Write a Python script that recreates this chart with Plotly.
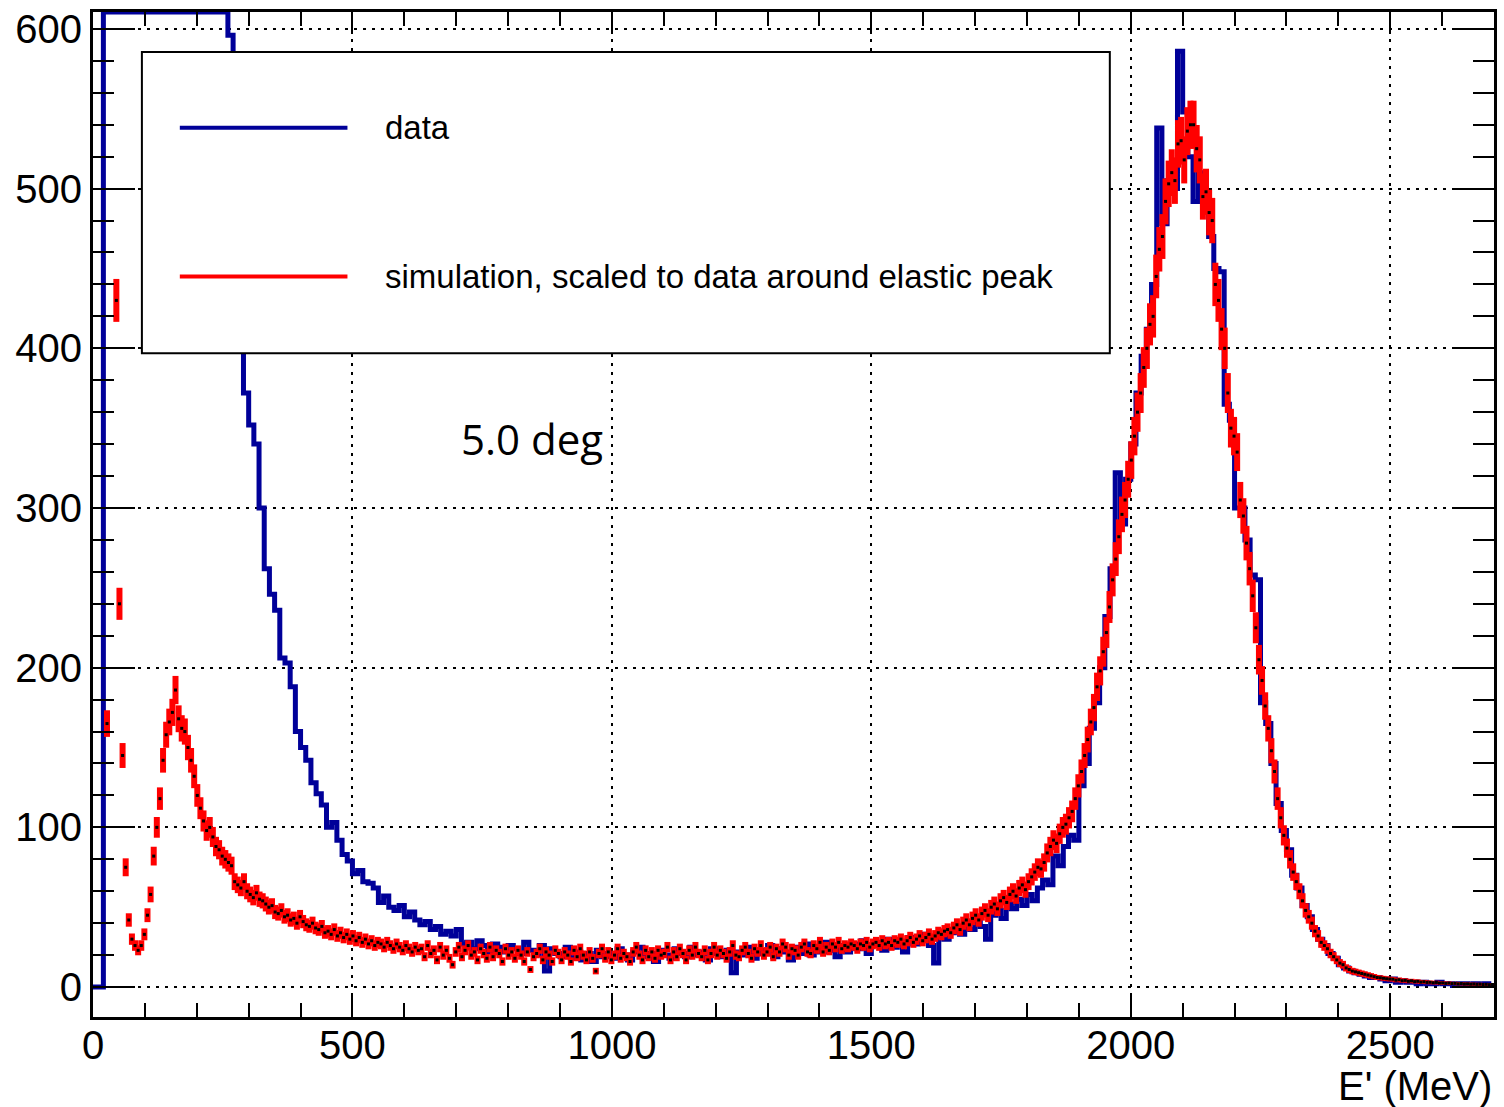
import numpy as np
import plotly.graph_objects as go

# ---------------- data ----------------
X_MIN, X_MAX = 0.0, 2700.0
Y_MIN, Y_MAX = -18.75, 610.6

# measured data histogram: 10 MeV bins starting at 0 MeV (bins above the frame are clipped by ROOT)
DATA_BIN_WIDTH = 10.0
DATA_COUNTS = [
    0, 0, 1400, 2300, 2600, 2400, 2150, 1950, 1780, 1640,        # 0-90
    1520, 1410, 1310, 1220, 1140, 1060, 990, 925, 865, 815,      # 100-190
    770, 730, 695, 665, 640, 618, 596, 520, 430, 372,            # 200-290
    352, 340, 300, 262, 246, 236, 206, 203, 188, 160,            # 300-390
    150, 142, 128, 121, 114, 100, 103, 92, 83, 79,               # 400-490
    71, 73, 66, 65, 62, 53, 57, 50, 48, 51,                      # 500-590
    44, 47, 42, 39, 41, 36, 38, 33, 35, 32,                      # 600-690
    36, 27, 28, 24, 29, 26, 22, 27, 25, 22,                      # 700-790
    26, 24, 21, 28, 23, 20, 26, 10, 24, 21,                      # 800-890
    19, 25, 18, 22, 17, 21, 16, 23, 19, 21,                      # 900-990
    18, 24, 20, 17, 22, 25, 19, 21, 16, 23,                      # 1000-1090
    20, 18, 24, 21, 19, 25, 20, 22, 17, 24,                      # 1100-1190
    21, 19, 23, 9, 22, 20, 25, 18, 23, 21,                       # 1200-1290
    26, 19, 24, 22, 17, 25, 21, 27, 20, 24,                      # 1300-1390
    22, 28, 23, 19, 26, 22, 27, 24, 29, 21,                      # 1400-1490
    26, 28, 23, 30, 25, 28, 22, 31, 27, 29,                      # 1500-1590
    33, 26, 15, 35, 30, 34, 37, 33, 39, 36,                      # 1600-1690
    42, 38, 30, 45, 48, 43, 52, 49, 55, 51,                      # 1700-1790
    58, 54, 62, 67, 64, 82, 76, 88, 95, 92,                      # 1800-1890
    126, 140, 162, 178, 200, 232, 262, 322, 290, 318,            # 1900-1990
    340, 372, 395, 412, 440, 538, 478, 505, 500, 586,            # 2000-2090
    548, 520, 492, 510, 495, 470, 450, 448, 365, 355,            # 2100-2190
    300, 300, 280, 258, 255, 178, 165, 140, 115, 98,             # 2200-2290
    86, 70, 62, 51, 44, 36, 30, 26, 21, 18,                      # 2300-2390
    14, 12, 10, 9, 8, 7, 6, 6, 5, 4,                             # 2400-2490
    5, 3, 4, 3, 3, 2, 3, 2, 2, 3,                                # 2500-2590
    2, 2, 1, 2, 2, 1, 2, 1, 2, 1,                                # 2600-2690
]

# simulation histogram: 6 MeV bins starting at 0 MeV, already scaled to the data
SIM_BIN_WIDTH = 6.0
SIM_SCALE = 0.42  # weight per simulated event (error = sqrt(weight * content))
SIM_COUNTS = [
    None, None, None, None, 165, 900, 750, 430, 240, 145, 75, 42, 30, 26, 23,
    26, 33, 45, 58, 82, 100, 118, 142, 158, 166, 172, 186, 168, 162, 160,
    150, 142, 132, 120, 112, 104, 98, 100, 94, 88, 86, 82, 80, 78, 76,
    66, 64, 62, 66, 60, 58, 56, 59, 55, 54, 52, 50, 51, 47, 46,
    48, 44, 45, 42, 43, 40, 44, 41, 39, 38, 40, 37, 36, 38, 34,
    35, 33, 36, 32, 34, 31, 33, 30, 32, 29, 31, 28, 30, 27, 29,
    26, 28, 27, 25, 28, 26, 24, 27, 25, 23, 26, 24, 22, 25, 23,
    24, 19, 26, 21, 23, 17, 25, 20, 23, 18, 14, 22, 25, 19, 23,
    26, 20, 22, 17, 24, 21, 18, 25, 19, 23, 21, 16, 24, 20, 22,
    18, 23, 20, 16, 22, 11, 19, 21, 24, 17, 22, 20, 16, 23, 21,
    17, 22, 20, 16, 23, 19, 24, 20, 17, 22, 18, 10, 21, 24, 18,
    22, 17, 20, 24, 18, 21, 19, 16, 22, 25, 20, 17, 23, 19, 22,
    18, 23, 20, 21, 25, 17, 22, 19, 24, 21, 17, 23, 20, 25, 21,
    19, 23, 17, 21, 25, 20, 23, 21, 18, 22, 26, 20, 19, 23, 25,
    21, 18, 24, 22, 26, 20, 22, 25, 19, 24, 22, 27, 25, 20, 24,
    23, 20, 25, 27, 22, 21, 26, 24, 28, 22, 25, 23, 27, 25, 28,
    24, 26, 25, 27, 26, 24, 27, 26, 28, 25, 27, 28, 26, 29, 27,
    28, 26, 29, 28, 30, 27, 29, 31, 28, 30, 32, 29, 31, 33, 30,
    32, 34, 33, 35, 36, 34, 37, 39, 36, 40, 42, 39, 43, 45, 42,
    46, 48, 45, 50, 52, 49, 54, 56, 53, 58, 60, 57, 62, 64, 61,
    66, 69, 72, 75, 74, 78, 84, 88, 92, 90, 96, 100, 102, 106, 110,
    118, 126, 135, 145, 155, 166, 175, 188, 198, 210, 222, 238, 255, 268, 282,
    296, 305, 318, 330, 345, 360, 372, 388, 400, 415, 420, 445, 462, 470, 492,
    503, 510, 505, 528, 530, 518, 536, 540, 540, 525, 518, 495, 498, 485, 480,
    440, 430, 412, 400, 372, 350, 345, 335, 305, 295, 278, 262, 245, 225, 205,
    192, 176, 162, 148, 135, 118, 106, 95, 87, 80, 72, 66, 60, 54, 48,
    44, 40, 35, 32, 28, 26, 24, 21, 19, 17, 15, 14, 12, 11, 10,
    9.5, 9, 8.5, 8, 7.5, 7, 6.5, 6, 5.8, 5.5, 5.2, 5, 4.9, 4.3, 4.6,
    4.0, 4.2, 3.6, 3.9, 3.4, 3.6, 3.1, 3.3, 2.9, 3.0, 2.7, 2.9, 2.5, 2.6, 2.3,
    2.5, 2.2, 2.3, 2.0, 2.2, 1.9, 2.0, 1.8, 1.9, 1.7, 1.8, 1.6, 1.7, 1.5, 1.6,
]

X_TICKS = [0, 500, 1000, 1500, 2000, 2500]
Y_TICKS = [0, 100, 200, 300, 400, 500, 600]
LEGEND_LABELS = ["data", "simulation, scaled to data around elastic peak"]
ANGLE_LABEL = "5.0 deg"
X_TITLE = "E' (MeV)"

# ---------------- styling ----------------
BLUE = "rgb(0,0,153)"
RED = "rgb(255,0,0)"
W, H = 1504, 1107
ML, MR, MT, MB = 93, 7, 10, 90
PW, PH = W - ML - MR, H - MT - MB
TICK_FONT = dict(family="Liberation Sans, Arial, sans-serif", size=40, color="black")


def px_to_paper_x(px):
    return (px - ML) / PW


def px_to_paper_y(py):
    return (MT + PH - py) / PH


# data histogram as ROOT-style step line (clipped at the frame top)
data_vals = np.array(DATA_COUNTS, dtype=float)
data_edges = X_MIN + DATA_BIN_WIDTH * np.arange(len(data_vals) + 1)
data_step_y = np.append(np.minimum(data_vals, Y_MAX), min(data_vals[-1], Y_MAX))

sim_vals = np.array([np.nan if v is None else v for v in SIM_COUNTS], dtype=float)
sim_centers = X_MIN + SIM_BIN_WIDTH * (np.arange(len(sim_vals)) + 0.5)
sim_err = np.sqrt(SIM_SCALE * np.nan_to_num(sim_vals))

fig = go.Figure()
fig.add_trace(go.Scatter(
    x=data_edges, y=data_step_y, mode="lines",
    line=dict(color=BLUE, width=5, shape="hv"),
    showlegend=False, hoverinfo="skip",
))
fig.add_trace(go.Scatter(
    x=sim_centers, y=sim_vals, mode="markers",
    marker=dict(symbol="square", size=3, color="black", line=dict(width=0)),
    error_y=dict(type="data", array=sim_err, visible=True, color=RED, thickness=6, width=0),
    showlegend=False, hoverinfo="skip",
))

axis_common = dict(
    showline=True, linecolor="black", linewidth=3, mirror="allticks",
    ticks="inside", tickcolor="black", tickwidth=2,
    showgrid=True, gridcolor="black", gridwidth=2, griddash="3px,6px",
    zeroline=False, tickfont=TICK_FONT,
)

fig.update_xaxes(
    range=[X_MIN, X_MAX], tickmode="array", tickvals=X_TICKS,
    ticktext=[str(t) for t in X_TICKS], ticklen=22, ticklabelstandoff=-9,
    minor=dict(dtick=100, ticks="inside", ticklen=14, tickcolor="black", tickwidth=2, showgrid=False),
    **axis_common,
)
fig.update_yaxes(
    range=[Y_MIN, Y_MAX], tickmode="array", tickvals=Y_TICKS,
    ticktext=[str(t) for t in Y_TICKS], ticklen=42,
    minor=dict(dtick=20, ticks="inside", ticklen=21, tickcolor="black", tickwidth=2, showgrid=False),
    **axis_common,
)

# legend box drawn like ROOT's TLegend
lx0, lx1 = px_to_paper_x(142), px_to_paper_x(1112)
ly0, ly1 = px_to_paper_y(352), px_to_paper_y(50)
fig.add_shape(type="rect", xref="paper", yref="paper", x0=lx0, x1=lx1, y0=ly0, y1=ly1,
              line=dict(color="black", width=2), fillcolor="white", layer="above")
for label, color, ypx in [(LEGEND_LABELS[0], BLUE, 126), (LEGEND_LABELS[1], RED, 275)]:
    yy = px_to_paper_y(ypx)
    fig.add_shape(type="line", xref="paper", yref="paper",
                  x0=px_to_paper_x(180), x1=px_to_paper_x(348), y0=yy, y1=yy,
                  line=dict(color=color, width=4), layer="above")
    fig.add_annotation(x=px_to_paper_x(384), y=yy, xref="paper", yref="paper",
                       text=label, showarrow=False, xanchor="left", yanchor="middle",
                       font=dict(family="Liberation Sans, Arial, sans-serif", size=33, color="black"))

fig.add_annotation(x=px_to_paper_x(460), y=px_to_paper_y(437), xref="paper", yref="paper",
                   text=ANGLE_LABEL, showarrow=False, xanchor="left", yanchor="middle",
                   font=dict(family="Open Sans, sans-serif", size=42, color="black"))

fig.add_annotation(x=1.0, y=px_to_paper_y(1086), xref="paper", yref="paper",
                   text=X_TITLE, showarrow=False, xanchor="right", yanchor="middle",
                   font=TICK_FONT)

fig.update_layout(
    width=W, height=H, margin=dict(l=ML, r=MR, t=MT, b=MB, pad=0),
    paper_bgcolor="white", plot_bgcolor="white", showlegend=False,
)

fig.write_html("out.html", config={"displayModeBar": False},
               post_script="document.body.style.margin='0px';")
